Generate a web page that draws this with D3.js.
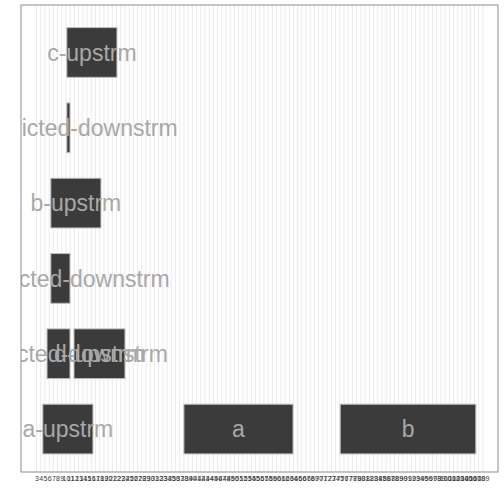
<!DOCTYPE html>
<html>
<head>
<meta charset="utf-8">
<script src="https://cdn.jsdelivr.net/npm/d3@7"></script>
<style>
  html, body { margin: 0; padding: 0; background: #fff; }
  svg { display: block; }
</style>
</head>
<body>
<div id="chart"></div>
<script>
// ---- data ----
const rows     = [1, 1, 1, 2, 2, 3, 4, 5, 6];
const labels   = ["a-upstrm", "a", "b", "constricted-downstrm", "d-upstrm", "constricted-downstrm", "b-upstrm", "constricted-downstrm", "c-upstrm"];
const starts   = [4.5, 38.0, 75.1, 5.5, 11.9, 6.4, 6.4, 10.2, 10.2];
const ends     = [16.4, 63.9, 107.3, 10.95, 24.0, 10.95, 18.3, 10.95, 22.1];
const tickFirst = 3, tickLast = 109;
const tickValues = d3.range(tickFirst, tickLast + 1);

const W = 504, H = 504;
const panel = { left: 21, right: 498, top: 5, bottom: 472 };

const x = d3.scaleLinear().domain([-0.68, 112.56]).range([panel.left, panel.right]);
const y = d3.scaleLinear().domain([0.43, 6.63]).range([panel.bottom, panel.top]);
const halfH = 0.33;

const svg = d3.select("#chart").append("svg").attr("width", W).attr("height", H);

svg.append("defs").append("clipPath").attr("id", "pclip")
  .append("rect")
  .attr("x", panel.left).attr("y", panel.top)
  .attr("width", panel.right - panel.left).attr("height", panel.bottom - panel.top);

// grid
svg.append("g").selectAll("line").data(tickValues).join("line")
  .attr("x1", d => x(d)).attr("x2", d => x(d))
  .attr("y1", panel.top).attr("y2", panel.bottom)
  .attr("stroke", "#ebebeb").attr("stroke-width", 1);

const data = rows.map((r, i) => ({ row: r, label: labels[i], s: starts[i], e: ends[i] }));

const g = svg.append("g").attr("clip-path", "url(#pclip)");

g.selectAll("rect.bar").data(data).join("rect")
  .attr("class", "bar")
  .attr("x", d => x(d.s))
  .attr("width", d => x(d.e) - x(d.s))
  .attr("y", d => y(d.row + halfH))
  .attr("height", d => y(d.row - halfH) - y(d.row + halfH))
  .attr("fill", "#3b3b3b")
  .attr("stroke", "#bdbdbd")
  .attr("stroke-width", 1);

g.selectAll("text.lab").data(data).join("text")
  .attr("class", "lab")
  .attr("x", d => (x(d.s) + x(d.e)) / 2)
  .attr("y", d => y(d.row))
  .attr("dy", "0.36em")
  .attr("text-anchor", "middle")
  .attr("font-family", "Liberation Sans, Arial, sans-serif")
  .attr("font-size", 23)
  .attr("fill", "#a8a8a8")
  .text(d => d.label);

// panel border
svg.append("rect")
  .attr("x", panel.left).attr("y", panel.top)
  .attr("width", panel.right - panel.left).attr("height", panel.bottom - panel.top)
  .attr("fill", "none").attr("stroke", "#8c8c8c").attr("stroke-width", 1);

// x axis tick labels
const axis = d3.axisBottom(x).tickValues(tickValues).tickSize(0).tickPadding(4).tickFormat(d3.format("d"));
const ax = svg.append("g").attr("transform", `translate(0,${panel.bottom})`).call(axis);
ax.select(".domain").remove();
ax.selectAll("text")
  .attr("font-family", "Liberation Sans, Arial, sans-serif")
  .attr("font-size", 7)
  .attr("fill", "#3a3a3a");
</script>
</body>
</html>
